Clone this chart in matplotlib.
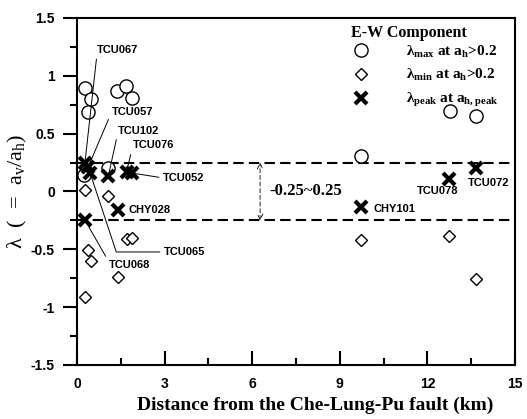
import matplotlib
matplotlib.use('Agg')
import matplotlib.pyplot as plt
from matplotlib.lines import Line2D
from matplotlib.ticker import MultipleLocator, FuncFormatter

plt.rcParams['axes.unicode_minus'] = False

# lambda_max at a_h > 0.2 (circles)
max_dist = [0.27, 0.47, 0.39, 1.38, 1.68, 1.87, 1.07, 0.24, 9.73, 12.77, 13.65]
max_lam = [0.895, 0.80, 0.685, 0.87, 0.91, 0.81, 0.205, 0.14, 0.31, 0.70, 0.65]

# lambda_min at a_h > 0.2 (diamonds)
min_dist = [0.27, 1.06, 1.70, 1.87, 0.36, 0.47, 1.41, 0.27, 9.73, 12.75, 13.66]
min_lam = [0.01, -0.04, -0.41, -0.40, -0.51, -0.60, -0.74, -0.91, -0.42, -0.385, -0.76]

# lambda at peak horizontal acceleration (crosses), one per station
peak_station = ['TCU067', 'TCU057', 'TCU065', 'TCU068', 'TCU102', 'CHY028',
                'TCU076', 'TCU052', 'CHY101', 'TCU078', 'TCU072']
peak_dist = [0.27, 0.38, 0.45, 0.27, 1.07, 1.41, 1.70, 1.87, 9.73, 12.75, 13.65]
peak_lam = [0.245, 0.21, 0.16, -0.245, 0.13, -0.16, 0.17, 0.16, -0.137, 0.11, 0.20]

band = [-0.25, 0.25]

# where each station name sits (left edge, vertical centre) and how it is tied to its cross
label_pos = {
    'TCU067': (0.685, 1.223, (0, 0.1), None),
    'TCU057': (1.19, 0.69, (0, 0.5), None),
    'TCU102': (1.40, 0.527, (0, 0.3), None),
    'TCU076': (1.91, 0.398, (0, 0.5), None),
    'TCU052': (2.95, 0.117, (0, 0.5), None),
    'CHY028': (1.75, -0.16, None, None),
    'TCU065': (2.98, -0.523, (0, 0.5), 'angle,angleA=0,angleB=-71.7,rad=0'),
    'TCU068': (1.10, -0.635, (0, 0.75), None),
    'CHY101': (10.14, -0.151, None, None),
    'TCU078': (11.63, 0.006, None, None),
    'TCU072': (13.39, 0.071, None, None),
}

sans = 'Liberation Sans'
serif = 'Liberation Serif'

fig = plt.figure(figsize=(5.27, 4.19), dpi=100)
ax = fig.add_axes([0.1461, 0.1289, 0.8311, 0.8282])

for y in band:
    ax.plot([0, 15], [y, y], color='black', lw=1.5, dashes=(5, 2.5), zorder=1)

ax.plot(max_dist, max_lam, 'o', ms=9.5, mfc='white', mec='black', mew=1.0, zorder=2)
ax.plot(min_dist, min_lam, 'D', ms=6.6, mfc='white', mec='black', mew=1.0, zorder=2)
ax.plot(peak_dist, peak_lam, 'x', ms=9, mec='black', mew=3, zorder=3)

for name, xd, yd in zip(peak_station, peak_dist, peak_lam):
    tx, ty, rel, conn = label_pos[name]
    if rel is None:
        ax.text(tx, ty, name, fontsize=8, fontweight='bold', family=sans,
                ha='left', va='center', zorder=4)
    else:
        ax.annotate(name, xy=(xd, yd), xytext=(tx, ty), fontsize=8,
                    fontweight='bold', family=sans, ha='left', va='center',
                    arrowprops=dict(arrowstyle='-', color='black', lw=0.7,
                                    shrinkA=1, shrinkB=2, relpos=rel,
                                    connectionstyle=conn or 'arc3'),
                    zorder=4)

# range marker for the dashed band
ax.annotate('', xy=(6.27, band[1]), xytext=(6.27, band[0]),
            arrowprops=dict(arrowstyle='<->', color='black', lw=0.6,
                            linestyle=(0, (5, 3)), shrinkA=0, shrinkB=0,
                            mutation_scale=10))
ax.text(6.6, 0.0, '-0.25~0.25', fontsize=12, fontweight='bold', family=serif,
        ha='left', va='center')

ax.set_xlim(0, 15)
ax.set_ylim(-1.5, 1.5)
ax.xaxis.set_major_locator(MultipleLocator(3))
ax.xaxis.set_minor_locator(MultipleLocator(1.5))
ax.yaxis.set_major_locator(MultipleLocator(0.5))
ax.yaxis.set_minor_locator(MultipleLocator(0.25))
fmt = FuncFormatter(lambda v, p: '%g' % v)
ax.xaxis.set_major_formatter(fmt)
ax.yaxis.set_major_formatter(fmt)

ax.tick_params(axis='x', which='both', direction='in', width=1.5, pad=9)
ax.tick_params(axis='x', which='major', length=10)
ax.tick_params(axis='x', which='minor', length=5)
ax.tick_params(axis='y', which='both', direction='out', width=1.5, pad=6)
ax.tick_params(axis='y', which='major', length=10)
ax.tick_params(axis='y', which='minor', length=5)
for lab in ax.get_xticklabels() + ax.get_yticklabels():
    lab.set_fontsize(10)
    lab.set_fontweight('bold')
    lab.set_family(sans)
for sp in ax.spines.values():
    sp.set_linewidth(1.5)

ax.set_xlabel('Distance from the Che-Lung-Pu fault (km)', fontsize=14,
              fontweight='bold', family=serif, va='top')
ax.xaxis.set_label_coords(0.543, -0.092)
ax.set_ylabel('λ  (  =  a$\\mathregular{_v}$/a$\\mathregular{_h}$)', fontsize=16,
              family=serif)
ax.yaxis.set_label_coords(-0.11, 0.50)

# legend heading drawn separately so the rows can sit closer to it
ax.text(0.625, 0.958, 'E-W Component', transform=ax.transAxes, fontsize=11.5,
        fontweight='bold', family=serif, ha='left', va='center')

handles = [
    Line2D([], [], ls='none', marker='o', ms=9.5, mfc='white', mec='black', mew=1.0),
    Line2D([], [], ls='none', marker='D', ms=6.6, mfc='white', mec='black', mew=1.0),
    Line2D([], [], ls='none', marker='x', ms=9, mec='black', mew=3),
]
labels = [
    'λ$\\mathregular{_{max}}$ at a$\\mathregular{_h}$>0.2',
    'λ$\\mathregular{_{min}}$ at a$\\mathregular{_h}$>0.2',
    'λ$\\mathregular{_{peak}}$ at a$\\mathregular{_{h,peak}}$',
]
ax.legend(handles, labels, loc='upper left', bbox_to_anchor=(0.614, 0.926),
          frameon=False, borderpad=0, borderaxespad=0, handlelength=2.0,
          handletextpad=1.95, labelspacing=0.5,
          prop={'family': serif, 'weight': 'bold', 'size': 11})

fig.savefig('out.png', dpi=100)
